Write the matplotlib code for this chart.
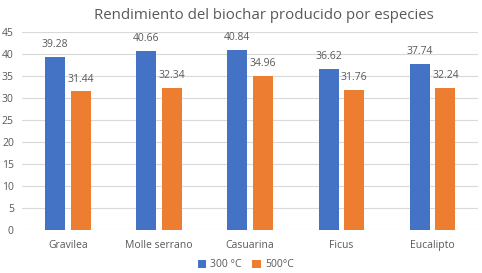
import numpy as np
import matplotlib.pyplot as plt

especies = ["Gravilea", "Molle serrano", "Casuarina", "Ficus", "Eucalipto"]
rend_300 = [39.28, 40.66, 40.84, 36.62, 37.74]
rend_500 = [31.44, 32.34, 34.96, 31.76, 32.24]

plt.rcParams["font.family"] = ["Open Sans", "DejaVu Sans"]
txt = "#595959"

fig = plt.figure(figsize=(4.82, 2.73), dpi=100)
ax = fig.add_axes([0.046, 0.157, 0.946, 0.727])

x = np.arange(len(especies))
w = 0.22
b1 = ax.bar(x - 0.14, rend_300, w, color="#4472C4", label="300 °C", zorder=3)
b2 = ax.bar(x + 0.14, rend_500, w, color="#ED7D31", label="500°C", zorder=3)
ax.bar_label(b1, labels=[f"{v:.2f}" for v in rend_300], padding=5, fontsize=7.5, color=txt)
ax.bar_label(b2, labels=[f"{v:.2f}" for v in rend_500], padding=5, fontsize=7.5, color=txt)

ax.set_xlim(-0.5, len(especies) - 0.5)
ax.set_ylim(0, 45)
ax.set_yticks(range(0, 46, 5))
ax.set_xticks(x)
ax.set_xticklabels(especies)
ax.tick_params(axis="both", length=0, labelsize=7.5, colors=txt)
ax.tick_params(axis="y", pad=6)
ax.tick_params(axis="x", pad=7)
ax.grid(axis="y", color="#d9d9d9", linewidth=0.8, zorder=0)
for s in ax.spines.values():
    s.set_visible(False)

ax.set_title("Rendimiento del biochar producido por especies", fontsize=10.8, color=txt,
             pad=9, x=0.53)
fig.legend(loc="lower center", bbox_to_anchor=(0.51, -0.025), ncol=2, frameon=False,
           fontsize=7.5, handlelength=0.8, handleheight=0.8, handletextpad=0.4,
           columnspacing=1.0, labelcolor=txt)

fig.savefig("out.png", dpi=100)
